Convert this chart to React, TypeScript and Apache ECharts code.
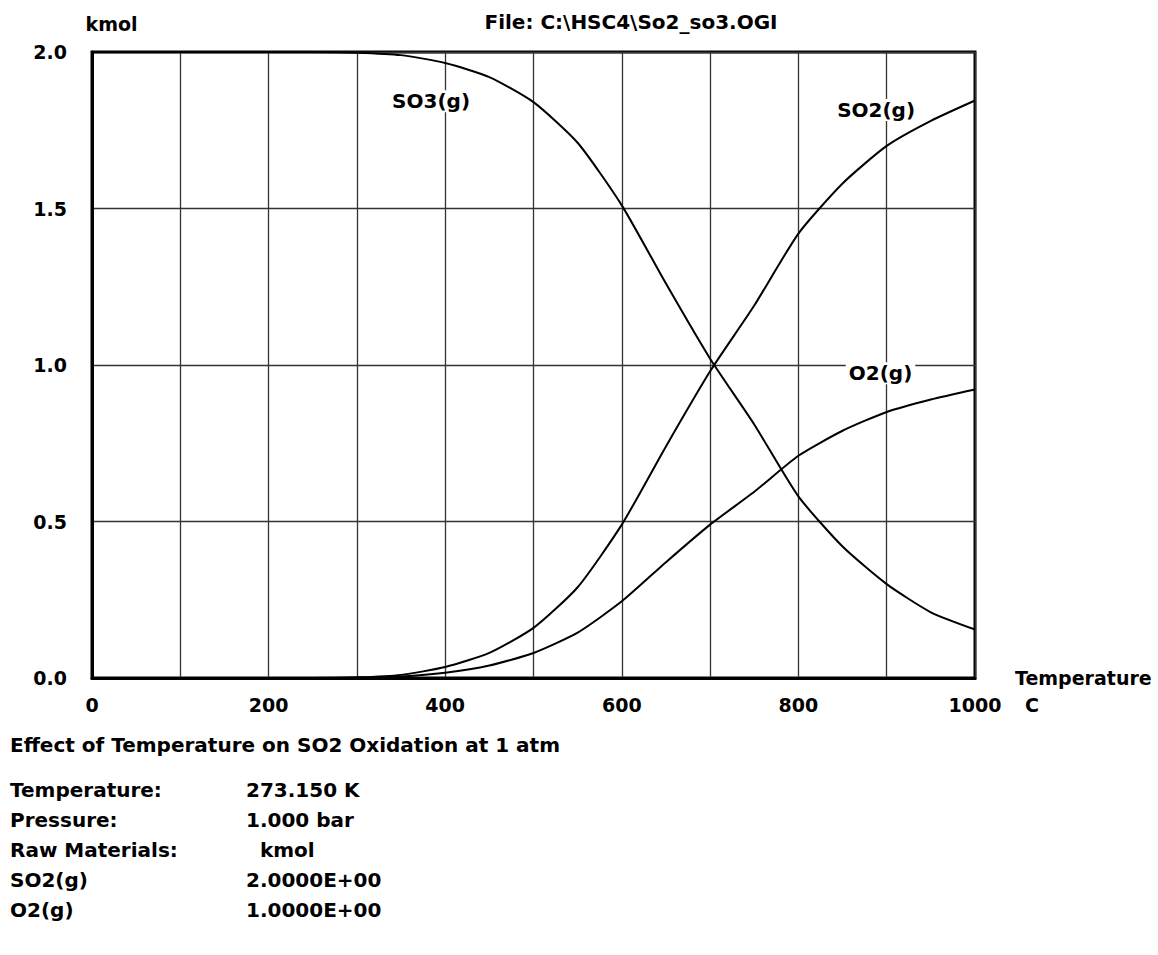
import React, { useEffect, useRef } from "react";
import * as echarts from "echarts";

const temps = [0, 50, 100, 150, 200, 250, 300, 350, 400, 450, 500, 550, 600, 650, 700, 750, 800, 850, 900, 950, 1000];
const so3 = [2.0, 2.0, 2.0, 2.0, 2.0, 2.0, 1.998, 1.99, 1.965, 1.92, 1.84, 1.71, 1.51, 1.26, 1.02, 0.81, 0.58, 0.42, 0.3, 0.21, 0.155];
const so2 = [0, 0, 0, 0, 0, 0, 0.002, 0.01, 0.035, 0.08, 0.16, 0.29, 0.49, 0.74, 0.98, 1.19, 1.42, 1.58, 1.7, 1.78, 1.845];
const o2 = [0, 0, 0, 0, 0, 0, 0.001, 0.005, 0.017, 0.04, 0.08, 0.145, 0.245, 0.37, 0.49, 0.595, 0.71, 0.79, 0.85, 0.89, 0.922];

const seriesNames = ["SO3(g)", "SO2(g)", "O2(g)"];
const seriesValues = [so3, so2, o2];
const labelCoords = [
  [384, 1.843],
  [888, 1.815],
  [893, 0.974],
];

const infoLabels = ["Temperature:", "Pressure:", "Raw Materials:", "SO2(g)", "O2(g)"];
const infoValues = ["273.150 K", "1.000 bar", "  kmol", "2.0000E+00", "1.0000E+00"];

const FONT = "DejaVu Sans";

export default function App() {
  const ref = useRef<HTMLDivElement>(null);
  useEffect(() => {
    if (!ref.current) return;
    const chart = echarts.init(ref.current, null, { renderer: "svg" });
    const txt = { fontFamily: FONT, fontWeight: "bold" as const, fontSize: 19, color: "#000" };
    const f20 = `bold 20px '${FONT}'`;
    const graphics: any[] = [
      {
        type: "text",
        x: 631,
        y: 22,
        style: { text: "File: C:\\HSC4\\So2_so3.OGI", font: f20, fill: "#000", textAlign: "center", textVerticalAlign: "middle" },
      },
      {
        type: "text",
        x: 1025,
        y: 705,
        style: { text: "C", font: `bold 19px '${FONT}'`, fill: "#000", textVerticalAlign: "middle" },
      },
      {
        type: "text",
        x: 10,
        y: 745,
        style: { text: "Effect of Temperature on SO2 Oxidation at 1 atm", font: f20, fill: "#000", textVerticalAlign: "middle" },
      },
    ];
    infoLabels.forEach((l, i) => {
      graphics.push({
        type: "text",
        x: 10,
        y: 790 + i * 30,
        style: { text: l, font: f20, fill: "#000", textVerticalAlign: "middle" },
      });
      graphics.push({
        type: "text",
        x: 246,
        y: 790 + i * 30,
        style: { text: infoValues[i], font: f20, fill: "#000", textVerticalAlign: "middle" },
      });
    });

    chart.setOption({
      animation: false,
      backgroundColor: "#fff",
      textStyle: { fontFamily: FONT },
      grid: {
        left: 92,
        right: 183,
        top: 52,
        bottom: 277,
        show: true,
        borderColor: "#000",
        borderWidth: 3,
        backgroundColor: "transparent",
      },
      xAxis: {
        type: "value",
        min: 0,
        max: 1000,
        interval: 100,
        name: "Temperature",
        nameLocation: "end",
        nameGap: 40,
        nameTextStyle: { ...txt, align: "left", verticalAlign: "middle", padding: [0, 0, 16, 0] },
        axisLine: { show: true, lineStyle: { color: "#000", width: 3 } },
        axisTick: { show: false },
        axisLabel: {
          ...txt,
          margin: 17,
          formatter: (v: number) => (v % 200 === 0 ? String(v) : ""),
        },
        splitLine: { show: true, lineStyle: { color: "#333", width: 1.3 } },
      },
      yAxis: {
        type: "value",
        min: 0,
        max: 2,
        interval: 0.5,
        name: "kmol",
        nameLocation: "end",
        nameGap: 28,
        nameTextStyle: { ...txt, align: "center", verticalAlign: "middle", padding: [0, 0, 0, 39] },
        axisLine: { show: true, lineStyle: { color: "#000", width: 3 } },
        axisTick: { show: false },
        axisLabel: {
          ...txt,
          margin: 25,
          padding: [0, 0, 6, 0],
          formatter: (v: number) => v.toFixed(1),
        },
        splitLine: { show: true, lineStyle: { color: "#333", width: 1.3 } },
      },
      series: seriesNames.map((name, si) => ({
        name,
        type: "line",
        data: temps.map((t, i) => [t, seriesValues[si][i]]),
        showSymbol: false,
        symbol: "none",
        smooth: 0.2,
        lineStyle: { color: "#000", width: 2 },
        z: 3,
        markPoint: {
          symbol: "circle",
          symbolSize: 0,
          silent: true,
          data: [
            {
              coord: labelCoords[si],
              label: {
                show: true,
                formatter: name,
                ...txt,
                fontSize: 20,
                backgroundColor: "#fff",
                padding: [1, 3],
                position: "inside",
              },
            },
          ],
        },
      })),
      graphic: graphics,
    });
    return () => chart.dispose();
  }, []);
  return <div ref={ref} style={{ width: 1158, height: 955, position: "absolute", left: 0, top: 0 }} />;
}
